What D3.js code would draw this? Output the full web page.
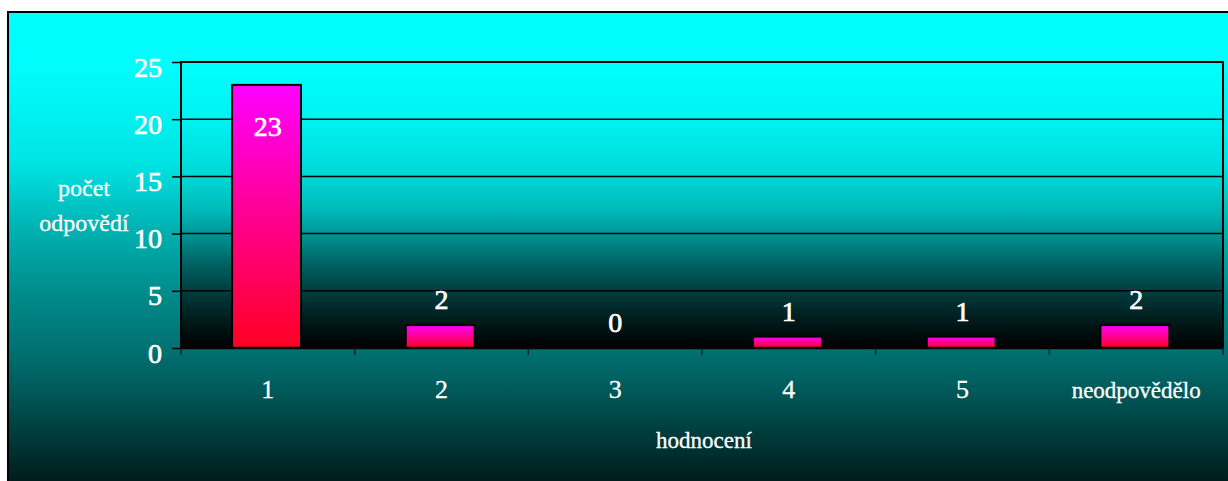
<!DOCTYPE html>
<html>
<head>
<meta charset="utf-8">
<script src="https://cdn.jsdelivr.net/npm/d3@7"></script>
<style>
  body { margin: 0; background: #fff; }
  svg { display: block; font-family: "Liberation Serif", "Times New Roman", serif; }
</style>
</head>
<body>
<svg id="chart" width="1228" height="481"></svg>
<script>
// data
const categories = ['1', '2', '3', '4', '5', 'neodpovědělo'];
const counts = [23, 2, 0, 1, 1, 2];
const yTicks = [0, 5, 10, 15, 20, 25];
const yTitle = ['počet', 'odpovědí'];
const xTitle = 'hodnocení';

const svg = d3.select('#chart');
const plot = {left: 181, right: 1223, top: 62, bottom: 348};

const defs = svg.append('defs');

// outer background: cyan fading to almost black
const outerGrad = defs.append('linearGradient')
    .attr('id', 'outerGrad')
    .attr('gradientUnits', 'userSpaceOnUse')
    .attr('x1', 0).attr('x2', 0).attr('y1', 12).attr('y2', 490);
[[0, 255], [0.12, 252], [0.31, 229], [0.46, 176], [0.6, 136], [0.71, 112], [0.77, 96], [0.87, 64], [1, 22]]
    .forEach(s => outerGrad.append('stop')
        .attr('offset', s[0])
        .attr('stop-color', d3.rgb(0, s[1], s[1])));

// plot area: cyan to black
const plotGrad = defs.append('linearGradient')
    .attr('id', 'plotGrad')
    .attr('gradientUnits', 'userSpaceOnUse')
    .attr('x1', 0).attr('x2', 0).attr('y1', plot.top).attr('y2', plot.bottom);
[[0, 255], [0.2, 242], [0.4, 215], [0.52, 185], [0.6, 150], [0.69, 105], [0.8, 62], [0.9, 28], [1, 0]]
    .forEach(s => plotGrad.append('stop')
        .attr('offset', s[0])
        .attr('stop-color', d3.rgb(0, s[1], s[1])));

const barGrad = defs.append('linearGradient')
    .attr('id', 'barGrad')
    .attr('x1', 0).attr('x2', 0).attr('y1', 0).attr('y2', 1);
barGrad.append('stop').attr('offset', 0).attr('stop-color', '#ff00ff');
barGrad.append('stop').attr('offset', 1).attr('stop-color', '#ff0022');

svg.append('rect')
    .attr('x', 8).attr('y', 12)
    .attr('width', 1250).attr('height', 490)
    .attr('fill', 'url(#outerGrad)')
    .attr('stroke', '#000')
    .attr('stroke-width', 2);

const x = d3.scaleBand()
    .domain(categories)
    .range([plot.left, plot.right]);

const y = d3.scaleLinear()
    .domain([0, 25])
    .range([plot.bottom, plot.top]);

svg.append('rect')
    .attr('x', plot.left).attr('y', plot.top)
    .attr('width', plot.right - plot.left).attr('height', plot.bottom - plot.top)
    .attr('fill', 'url(#plotGrad)');

// gridlines
svg.append('g')
    .selectAll('line')
    .data(yTicks.filter(t => t > 0 && t < 25))
    .enter()
    .append('line')
    .attr('x1', plot.left).attr('x2', plot.right)
    .attr('y1', d => y(d)).attr('y2', d => y(d))
    .attr('stroke', '#000')
    .attr('stroke-width', 1.5);

svg.append('rect')
    .attr('x', plot.left).attr('y', plot.top)
    .attr('width', plot.right - plot.left).attr('height', plot.bottom - plot.top)
    .attr('fill', 'none')
    .attr('stroke', '#000')
    .attr('stroke-width', 2);

// bars
const bw = x.bandwidth();
const rows = categories.map((c, i) => ({c, v: counts[i]}));
svg.append('g')
    .selectAll('rect')
    .data(rows.filter(d => d.v > 0))
    .enter()
    .append('rect')
    .attr('x', d => x(d.c) + bw * 0.294)
    .attr('width', bw * 0.397)
    .attr('y', d => y(d.v))
    .attr('height', d => y(0) - y(d.v))
    .attr('fill', 'url(#barGrad)')
    .attr('stroke', '#000')
    .attr('stroke-width', 2);

// axis line at zero
svg.append('line')
    .attr('x1', plot.left).attr('x2', plot.right)
    .attr('y1', y(0)).attr('y2', y(0))
    .attr('stroke', '#000')
    .attr('stroke-width', 2.5);

// bar value labels
svg.append('g')
    .selectAll('text')
    .data(rows)
    .enter()
    .append('text')
    .attr('x', d => x(d.c) + bw / 2)
    .attr('y', d => d.v > 10 ? y(d.v) + 51 : y(d.v) - 16)
    .attr('text-anchor', 'middle')
    .attr('fill', '#fff')
    .attr('stroke', '#fff')
    .attr('stroke-width', 0.7)
    .style('font-size', '28px')
    .text(d => d.v);

// y axis
const yAxis = svg.append('g')
    .attr('transform', `translate(${plot.left},0)`)
    .call(d3.axisLeft(y).tickValues(yTicks).tickSize(9).tickPadding(10));
yAxis.attr('font-family', '"Liberation Serif", serif');
yAxis.select('.domain').remove();
yAxis.selectAll('.tick line').attr('stroke', '#000').attr('stroke-width', 1.5);
yAxis.selectAll('.tick text')
    .attr('fill', '#fff')
    .attr('stroke', '#fff')
    .attr('stroke-width', 0.7)
    .attr('dy', '0.5em')
    .style('font-size', '28px');

// x axis: ticks at category boundaries, labels at centres
svg.append('g')
    .selectAll('line')
    .data(categories.map(c => x(c)).concat([plot.right]))
    .enter()
    .append('line')
    .attr('x1', d => d).attr('x2', d => d)
    .attr('y1', y(0)).attr('y2', y(0) + 7)
    .attr('stroke', '#002626')
    .attr('stroke-width', 1.5);

svg.append('g')
    .selectAll('text')
    .data(categories)
    .enter()
    .append('text')
    .attr('x', d => x(d) + bw / 2)
    .attr('y', 398)
    .attr('text-anchor', 'middle')
    .attr('fill', '#fff')
    .attr('stroke', '#fff')
    .attr('stroke-width', 0.3)
    .style('font-size', d => d.length > 2 ? '23px' : '26px')
    .text(d => d);

svg.append('text')
    .attr('x', 704).attr('y', 448)
    .attr('text-anchor', 'middle')
    .attr('fill', '#fff')
    .attr('stroke', '#fff')
    .attr('stroke-width', 0.3)
    .style('font-size', '23px')
    .text(xTitle);

svg.append('g')
    .selectAll('text')
    .data(yTitle)
    .enter()
    .append('text')
    .attr('x', 84)
    .attr('y', (d, i) => 196 + i * 35)
    .attr('text-anchor', 'middle')
    .attr('fill', '#fff')
    .attr('stroke', '#fff')
    .attr('stroke-width', 0.3)
    .style('font-size', '24px')
    .text(d => d);
</script>
</body>
</html>
